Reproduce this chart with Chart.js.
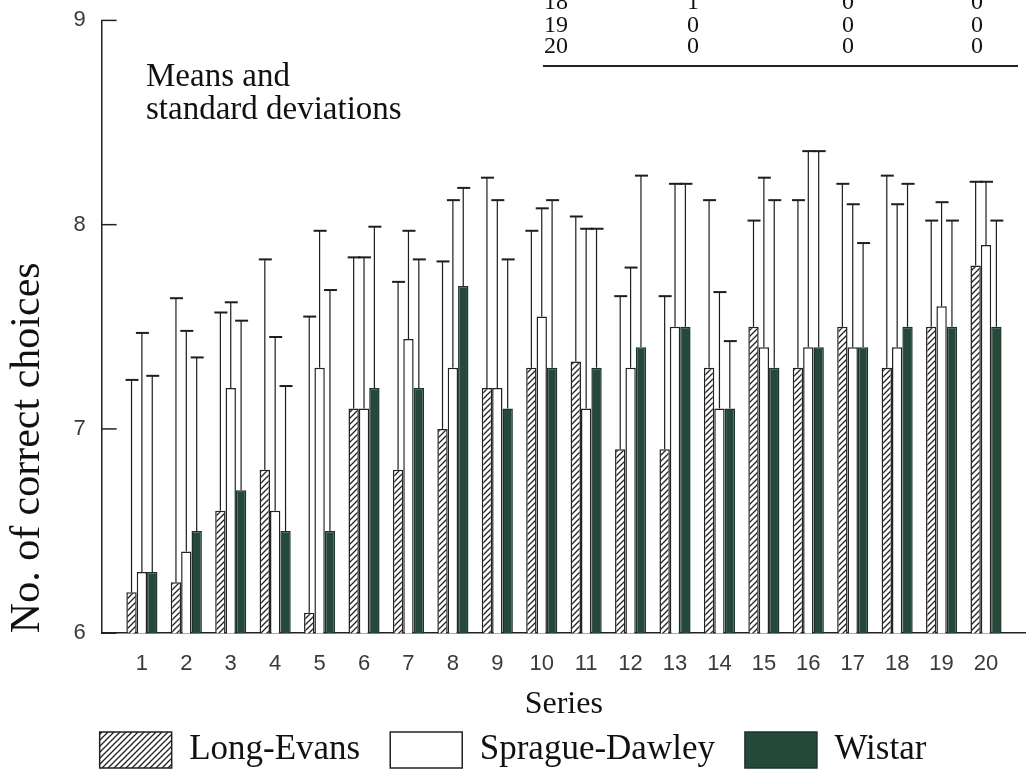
<!DOCTYPE html>
<html>
<head>
<meta charset="utf-8">
<script src="https://cdn.jsdelivr.net/npm/chart.js@4.4.0/dist/chart.umd.min.js"></script>
<style>
  html, body { margin: 0; padding: 0; background: #fff; }
</style>
</head>
<body>
<canvas id="myChart" width="1026" height="772"></canvas>
<script>
let series = [1, 2, 3, 4, 5, 6, 7, 8, 9, 10, 11, 12, 13, 14, 15, 16, 17, 18, 19, 20]

let longEvans   = [6.2, 6.25, 6.6, 6.8, 6.1, 7.1, 6.8, 7.0, 7.2, 7.3, 7.33, 6.9, 6.9, 7.3, 7.5, 7.3, 7.5, 7.3, 7.5, 7.8]
let longEvansSD = [1.04, 1.39, 0.97, 1.03, 1.45, 0.74, 0.92, 0.82, 1.03, 0.67, 0.71, 0.75, 0.75, 0.82, 0.52, 0.82, 0.70, 0.94, 0.52, 0.41]

let sprague   = [6.3, 6.4, 7.2, 6.6, 7.3, 7.1, 7.44, 7.3, 7.2, 7.55, 7.1, 7.3, 7.5, 7.1, 7.4, 7.4, 7.4, 7.4, 7.6, 7.9]
let spragueSD = [1.17, 1.08, 0.42, 0.85, 0.67, 0.74, 0.53, 0.82, 0.92, 0.53, 0.88, 0.49, 0.70, 0.57, 0.83, 0.96, 0.70, 0.70, 0.51, 0.31]

let wistar   = [6.3, 6.5, 6.7, 6.5, 6.5, 7.2, 7.2, 7.7, 7.1, 7.3, 7.3, 7.4, 7.5, 7.1, 7.3, 7.4, 7.4, 7.5, 7.5, 7.5]
let wistarSD = [0.96, 0.85, 0.83, 0.71, 1.18, 0.79, 0.63, 0.48, 0.73, 0.82, 0.68, 0.84, 0.70, 0.33, 0.82, 0.96, 0.51, 0.70, 0.52, 0.52]

let yTicks = [6, 7, 8, 9]

// bit of the table that sits above the chart, cut off at the top
let tableRows = [
  ['18', '1', '0', '0'],
  ['19', '0', '0', '0'],
  ['20', '0', '0', '0']
]

let serif = '"Liberation Serif", "Times New Roman", serif'
let sans = '"Liberation Sans", Arial, sans-serif'

function hatch() {
  let c = document.createElement('canvas')
  c.width = 6
  c.height = 6
  let g = c.getContext('2d')
  g.fillStyle = '#fff'
  g.fillRect(0, 0, 6, 6)
  g.strokeStyle = '#222'
  g.lineWidth = 1.3
  g.beginPath()
  g.moveTo(-1, 7); g.lineTo(7, -1)
  g.moveTo(-1, 1); g.lineTo(1, -1)
  g.moveTo(5, 7); g.lineTo(7, 5)
  g.stroke()
  return g.createPattern(c, 'repeat')
}

function points(values) {
  return values.map((v, i) => ({ x: series[i], y: v }))
}

let errorBars = {
  id: 'errorBars',
  afterDatasetsDraw(chart) {
    let ctx = chart.ctx
    let y = chart.scales.y
    ctx.save()
    ctx.strokeStyle = '#1c1c24'
    chart.data.datasets.forEach((ds, i) => {
      let meta = chart.getDatasetMeta(i)
      meta.data.forEach((bar, j) => {
        let top = y.getPixelForValue(ds.data[j].y + ds.sd[j])
        ctx.lineWidth = 1.2
        ctx.beginPath()
        ctx.moveTo(bar.x, bar.y)
        ctx.lineTo(bar.x, top)
        ctx.stroke()
        ctx.lineWidth = 2
        ctx.beginPath()
        ctx.moveTo(bar.x - 6, top)
        ctx.lineTo(bar.x + 7, top)
        ctx.stroke()
      })
    })
    ctx.restore()
  }
}

let extras = {
  id: 'extras',
  afterDraw(chart) {
    let ctx = chart.ctx
    let area = chart.chartArea
    let y = chart.scales.y
    ctx.save()

    // inward tick marks on the y axis
    ctx.strokeStyle = '#222'
    ctx.lineWidth = 1.5
    y.ticks.forEach(t => {
      let py = y.getPixelForValue(t.value)
      ctx.beginPath()
      ctx.moveTo(area.left, py)
      ctx.lineTo(area.left + 15, py)
      ctx.stroke()
    })

    // note in the upper left
    ctx.fillStyle = '#111'
    ctx.font = '33px ' + serif
    ctx.textBaseline = 'middle'
    ctx.textAlign = 'left'
    ctx.fillText('Means and', 146, 77)
    ctx.fillText('standard deviations', 146, 110)

    // table rows
    ctx.font = '24px ' + serif
    ctx.textAlign = 'center'
    let cols = [556, 693, 848, 977]
    let rowY = [3, 26, 47]
    tableRows.forEach((row, r) => {
      row.forEach((cell, c) => {
        ctx.fillText(cell, cols[c], rowY[r])
      })
    })
    ctx.lineWidth = 2
    ctx.beginPath()
    ctx.moveTo(543, 66)
    ctx.lineTo(1018, 66)
    ctx.stroke()

    ctx.restore()
  }
}

let ctx = document.getElementById('myChart').getContext('2d')

let myChart = new Chart(ctx, {
  type: 'bar',
  data: {
    datasets: [
      {
        label: 'Long-Evans',
        data: points(longEvans),
        sd: longEvansSD,
        backgroundColor: hatch(),
        borderColor: '#222',
        borderWidth: 1.5
      },
      {
        label: 'Sprague-Dawley',
        data: points(sprague),
        sd: spragueSD,
        backgroundColor: '#fff',
        borderColor: '#222',
        borderWidth: 1.5
      },
      {
        label: 'Wistar',
        data: points(wistar),
        sd: wistarSD,
        backgroundColor: '#24493a',
        borderColor: '#1b3328',
        borderWidth: 1.5
      }
    ]
  },
  options: {
    responsive: false,
    animation: false,
    categoryPercentage: 0.7,
    barPercentage: 1.0,
    layout: { padding: { top: 0, right: 0, left: 0, bottom: 0 } },
    plugins: {
      tooltip: { enabled: false },
      legend: {
        position: 'bottom',
        maxHeight: 70,
        labels: {
          boxWidth: 72,
          boxHeight: 36,
          padding: 30,
          color: '#111',
          font: { family: serif, size: 35 }
        }
      }
    },
    scales: {
      x: {
        type: 'linear',
        offset: false,
        min: 0.094,
        max: 20.9,
        afterBuildTicks: scale => { scale.ticks = series.map(v => ({ value: v })) },
        grid: { display: true, offset: false, drawOnChartArea: false, drawTicks: false },
        border: { display: true, color: '#222', width: 1.5 },
        ticks: {
          padding: 18,
          color: '#3a3a3a',
          font: { family: sans, size: 22 },
          maxRotation: 0,
          autoSkip: false
        },
        title: {
          display: true,
          text: 'Series',
          color: '#111',
          font: { family: serif, size: 32 },
          padding: { top: -10, bottom: -22 }
        }
      },
      y: {
        min: 6,
        max: 9,
        afterBuildTicks: scale => { scale.ticks = yTicks.map(v => ({ value: v })) },
        grid: { display: true, drawOnChartArea: false, drawTicks: false },
        border: { display: true, color: '#222', width: 1.5 },
        ticks: {
          padding: 16,
          color: '#3a3a3a',
          font: { family: sans, size: 22, lineHeight: 0.4 }
        },
        title: {
          display: true,
          text: 'No. of correct choices',
          align: 'start',
          color: '#111',
          font: { family: serif, size: 42 },
          padding: { top: 3, bottom: 4 }
        }
      }
    }
  },
  plugins: [errorBars, extras]
})
</script>
</body>
</html>
